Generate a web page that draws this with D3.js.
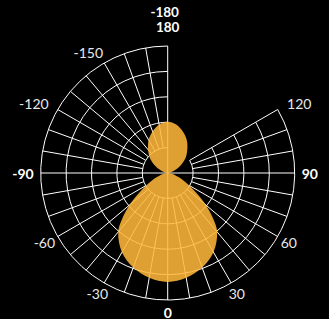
<!DOCTYPE html>
<html>
<head>
<meta charset="utf-8">
<script src="https://cdn.jsdelivr.net/npm/d3@7"></script>
<style>
  html, body { margin: 0; padding: 0; background: #000; }
  svg { display: block; }
</style>
</head>
<body>
<div id="vis"></div>
<script>
const FRAME_WIDTH = 329;
const FRAME_HEIGHT = 319;
const CX = 167.7;
const CY = 173;
const RADIUS = 127;

// angular axis (degrees, 0 at bottom, counterclockwise)
const SECTOR = [-180, 120];
const ANGLE_TICKS = [-180, -150, -120, -90, -60, -30, 0, 30, 60, 90, 120, 180];
const RADIAL_TICKS = [1, 2, 3, 4, 5];

// pattern, going round from 0
const THETA = [0, 10, 20, 30, 40, 45, 50, 55, 60, 65, 70, 80, 90,
               100, 110, 120, 130, 140, 150, 160, 170, 180,
               -170, -160, -150, -140, -130, -120, -110, -100,
               -90, -80, -70, -65, -60, -55, -50, -45, -40, -30, -20, -10];
const R_VALUES = [4.29, 4.19, 3.96, 3.60, 3.03, 2.52, 1.97, 1.38, 0.98, 0.67, 0.43, 0.16, 0,
                  0.08, 0.28, 0.57, 0.91, 1.20, 1.50, 1.74, 1.94, 2.02,
                  1.94, 1.74, 1.50, 1.20, 0.91, 0.57, 0.28, 0.08,
                  0, 0.16, 0.43, 0.67, 0.98, 1.38, 1.97, 2.52, 3.03, 3.60, 3.96, 4.19];

const pattern = THETA.map((t, i) => ({theta: t, r: R_VALUES[i]}));

const rScale = d3.scaleLinear().domain([0, 5]).range([0, RADIUS]);
const toRad = (d) => d * Math.PI / 180;
const px = (t, r) => CX + r * Math.sin(toRad(t));
const py = (t, r) => CY + r * Math.cos(toRad(t));
const screenAngle = (t) => Math.PI / 2 - toRad(t);

const FRAME = d3.select("#vis")
    .append("svg")
    .attr("width", FRAME_WIDTH)
    .attr("height", FRAME_HEIGHT)
    .style("background", "#000");

// grid circles
const GRID = FRAME.append("g")
    .attr("fill", "none")
    .attr("stroke", "#fff")
    .attr("stroke-width", 1);

GRID.selectAll("path.circle")
    .data(RADIAL_TICKS)
    .enter()
    .append("path")
    .attr("class", "circle")
    .attr("d", (d) => {
        const p = d3.path();
        p.arc(CX, CY, rScale(d), screenAngle(SECTOR[1]), screenAngle(SECTOR[0]));
        return p.toString();
    });

// spokes every 10 degrees
const spokes = d3.range(SECTOR[0], SECTOR[1] + 1, 10);
GRID.selectAll("line.spoke")
    .data(spokes)
    .enter()
    .append("line")
    .attr("class", "spoke")
    .attr("x1", (d) => px(d, d % 90 === 0 ? 0 : rScale(1)))
    .attr("y1", (d) => py(d, d % 90 === 0 ? 0 : rScale(1)))
    .attr("x2", (d) => px(d, RADIUS))
    .attr("y2", (d) => py(d, RADIUS));

// filled pattern
const radialLine = d3.lineRadial()
    .angle((d) => Math.PI - toRad(d.theta))
    .radius((d) => rScale(d.r))
    .curve(d3.curveCatmullRomClosed);

FRAME.append("path")
    .datum(pattern)
    .attr("transform", `translate(${CX},${CY})`)
    .attr("d", radialLine)
    .attr("fill", "#ffb83a")
    .attr("fill-opacity", 0.87)
    .attr("stroke", "none");

// angular labels
const LABEL_GAP = 7;
const CAP = 10;
const labels = FRAME.selectAll("text.tick")
    .data(ANGLE_TICKS)
    .enter()
    .append("text")
    .attr("class", "tick")
    .attr("font-family", "Lato, 'Open Sans', sans-serif")
    .attr("font-size", (d) => Math.abs(d) === 180 ? 13.5 : 14)
    .attr("font-weight", (d) => d % 90 === 0 ? "bold" : "normal")
    .attr("fill", (d) => d % 90 === 0 ? "#fff" : "#e8e8e8")
    .attr("text-anchor", "middle")
    .attr("dominant-baseline", "central")
    .text((d) => d);

labels.each(function(d) {
    const w = this.getComputedTextLength();
    const s = Math.sin(toRad(d)), c = Math.cos(toRad(d));
    let x = px(d, RADIUS + LABEL_GAP) + s * w / 2;
    let y = py(d, RADIUS + LABEL_GAP) + c * CAP / 2;
    // upper labels sit a little further out, lower ones a little closer
    if (d % 90 !== 0) { x += c < 0 ? Math.sign(s) * 5 : -Math.sign(s) * 2; }
    if (d === 180) { y -= 7; }
    if (d === -180) { y -= 22.5; x -= 3; }
    d3.select(this).attr("x", x).attr("y", y);
});
</script>
</body>
</html>
